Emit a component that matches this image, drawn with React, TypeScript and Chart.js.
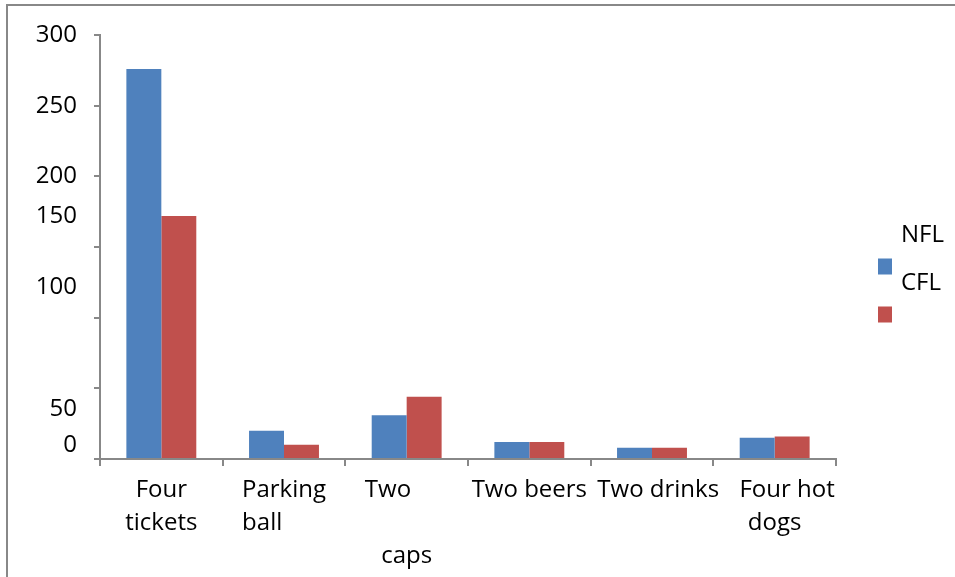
import React, { useEffect, useRef } from "react";
import { Chart, registerables } from "chart.js";

Chart.register(...registerables);

// ---- data ----
const categories = ["Four tickets", "Parking ball", "Two caps", "Two beers", "Two drinks", "Four hot dogs"];
const xTickLabels: (string | string[])[] = [
  ["Four", "tickets"],
  ["Parking", "ball       "],
  ["Two      ", "", "caps"],
  "Two beers",
  "  Two drinks",
  ["    Four hot", "dogs"],
];
const seriesNames = ["NFL", "CFL"];
const nflValues = [276, 20, 31, 12, 8, 15];
const cflValues = [172, 10, 44, 12, 8, 16];
const yTickValues = [0, 50, 100, 150, 200, 250, 300];
const yTickLabels = ["0", "50", "100", "150", "200", "250", "300"];

// ---- styling ----
const FONT = "'Open Sans', sans-serif";
const FONT_SIZE = 24;
const AXIS_COLOR = "#888888";
const COLORS = ["#4F81BD", "#C0504D"];
// vertical label displacement (px) seen in the reference, per tick value
const yLabelShift: Record<number, number> = { 0: -14, 50: 21, 100: -31, 150: -31 };

const legendPlugin = {
  id: "sideLegend",
  afterDraw(chart: any) {
    const { ctx, chartArea } = chart;
    const mid = chart.height / 2 + 2;
    ctx.save();
    ctx.font = `${FONT_SIZE}px ${FONT}`;
    ctx.textBaseline = "middle";
    ctx.textAlign = "left";
    chart.data.datasets.forEach((ds: any, i: number) => {
      const cy = mid - 24 + i * 48;
      const bx = chartArea.right + 42;
      ctx.fillStyle = ds.backgroundColor;
      ctx.fillRect(bx, cy - 8, 14, 16);
      ctx.fillStyle = "#000";
      ctx.fillText(ds.label, bx + 23, cy - 31);
    });
    ctx.restore();
  },
};

export default function App() {
  const ref = useRef<HTMLCanvasElement>(null);
  useEffect(() => {
    if (!ref.current) return;
    const chart = new Chart(ref.current, {
      type: "bar",
      data: {
        labels: categories,
        datasets: [
          { label: seriesNames[0], data: nflValues, backgroundColor: COLORS[0], borderWidth: 0 },
          { label: seriesNames[1], data: cflValues, backgroundColor: COLORS[1], borderWidth: 0 },
        ],
      },
      options: {
        animation: false,
        responsive: true,
        maintainAspectRatio: false,
        layout: { padding: { left: 0, top: 35, right: 119, bottom: 0 } },
        datasets: { bar: { categoryPercentage: 0.57, barPercentage: 1 } },
        plugins: { legend: { display: false }, tooltip: { enabled: false } },
        scales: {
          x: {
            afterFit: (s: any) => { s.height = 118; },
            border: { color: AXIS_COLOR, width: 2 },
            grid: { drawOnChartArea: false, drawTicks: true, tickLength: 7, color: AXIS_COLOR, lineWidth: 2, offset: true },
            ticks: {
              color: "#000",
              autoSkip: false,
              maxRotation: 0,
              padding: 8,
              font: { family: FONT, size: FONT_SIZE, lineHeight: "33px" },
              callback: (_v: any, i: number) => xTickLabels[i],
            },
          },
          y: {
            min: 0,
            max: 300,
            afterFit: (s: any) => { s.width = 100; },
            afterBuildTicks: (s: any) => { s.ticks = yTickValues.map((v) => ({ value: v })); },
            border: { color: AXIS_COLOR, width: 2 },
            grid: { drawOnChartArea: false, drawTicks: true, tickLength: 6, color: AXIS_COLOR, lineWidth: 2 },
            ticks: {
              color: "#000",
              autoSkip: false,
              padding: 17,
              font: (ctx: any) => {
                const v = ctx.tick ? ctx.tick.value : 0;
                const s = Math.abs(yLabelShift[v] || 0);
                return { family: FONT, size: FONT_SIZE, lineHeight: s ? `${2 * s}px` : 1.2 };
              },
              callback: (v: any) => {
                const label = yTickLabels[yTickValues.indexOf(Number(v))];
                const s = yLabelShift[Number(v)] || 0;
                if (s < 0) return [label, ""];
                if (s > 0) return ["", label];
                return label;
              },
            },
          },
        },
      } as any,
      plugins: [legendPlugin],
    });
    return () => chart.destroy();
  }, []);

  return (
    <div style={{ position: "fixed", left: 0, top: 0, width: 955, height: 577, background: "#fff", overflow: "hidden" }}>
      <div
        style={{
          position: "absolute",
          left: 6,
          top: 4,
          width: 960,
          height: 600,
          borderTop: `2px solid ${AXIS_COLOR}`,
          borderLeft: `2px solid ${AXIS_COLOR}`,
        }}
      />
      <div style={{ position: "absolute", left: 0, top: 0, width: 955, height: 577 }}>
        <canvas ref={ref} />
      </div>
    </div>
  );
}
